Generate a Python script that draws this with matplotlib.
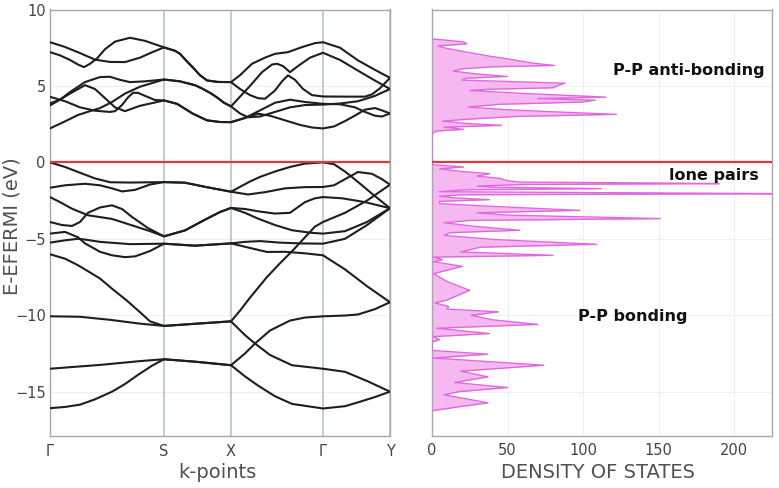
import numpy as np
import matplotlib as mpl
mpl.use('Agg')
import matplotlib.pyplot as plt

# high symmetry points along the path
kpt_pos = [0.0, 1.14, 1.81, 2.73, 3.40]
kpt_labels = ['Γ', 'S', 'X', 'Γ', 'Y']

# conduction bands (k, E)
cb1 = [(0, 7.86), (.15, 7.55), (.30, 7.15), (.45, 6.72), (.60, 6.57), (.75, 6.56), (.90, 6.85), (1.02, 7.2), (1.14, 7.52),
       (1.25, 7.3), (1.30, 7.1), (1.37, 6.6), (1.43, 6.2), (1.50, 5.7), (1.57, 5.36), (1.68, 5.26), (1.81, 5.25),
       (1.90, 5.7), (2.02, 6.45), (2.15, 6.85), (2.25, 7.1), (2.38, 7.21), (2.52, 7.54), (2.65, 7.8), (2.73, 7.86),
       (2.90, 7.5), (3.08, 6.67), (3.25, 6.05), (3.40, 5.53)]
cb2 = [(0, 7.21), (.10, 7.0), (.20, 6.7), (.28, 6.4), (.34, 6.23), (.40, 6.45), (.47, 6.8), (.55, 7.4), (.65, 7.9),
       (.80, 8.15), (.95, 7.95), (1.14, 7.52),
       (1.25, 7.3), (1.30, 7.1), (1.37, 6.6), (1.43, 6.2), (1.50, 5.7), (1.57, 5.36), (1.68, 5.26), (1.81, 5.25),
       (1.90, 4.8), (2.00, 4.4), (2.08, 4.2), (2.15, 4.16), (2.25, 4.7), (2.32, 5.3), (2.38, 5.69), (2.45, 5.4),
       (2.53, 4.8), (2.62, 4.4), (2.73, 4.31), (2.95, 4.3), (3.15, 4.3), (3.22, 4.45), (3.30, 4.85), (3.40, 5.53)]
cb3 = [(0, 3.73), (.10, 4.1), (.20, 4.6), (.35, 5.25), (.50, 5.58), (.60, 5.6), (.70, 5.4), (.80, 5.25), (.95, 5.3),
       (1.14, 5.42),
       (1.30, 5.3), (1.45, 5.05), (1.53, 4.8), (1.60, 4.55), (1.67, 4.25), (1.74, 3.9), (1.81, 3.66),
       (1.90, 4.3), (2.00, 5.0), (2.12, 5.9), (2.22, 6.4), (2.27, 6.45), (2.33, 6.3), (2.40, 5.9), (2.48, 6.3),
       (2.60, 6.85), (2.73, 7.17), (2.90, 6.7), (3.08, 6.0), (3.25, 5.35), (3.40, 4.8)]
cb4 = [(0, 2.22), (.14, 2.65), (.28, 3.1), (.40, 3.35), (.50, 3.55), (.62, 3.95), (.75, 4.5), (.90, 4.95), (1.14, 5.42),
       (1.30, 5.3), (1.45, 5.05), (1.53, 4.8), (1.60, 4.55), (1.67, 4.25), (1.74, 3.9), (1.81, 3.66),
       (1.90, 3.2), (1.98, 2.95), (2.10, 3.0), (2.25, 3.3), (2.40, 3.6), (2.55, 3.75), (2.73, 3.78),
       (2.90, 3.85), (3.08, 4.0), (3.25, 4.35), (3.40, 4.8)]
cb5 = [(0, 4.29), (.15, 4.0), (.30, 3.6), (.45, 3.38), (.60, 3.3), (.65, 3.35), (.72, 3.75), (.78, 4.25), (.83, 4.55),
       (.88, 4.55), (.95, 4.35), (1.05, 4.08), (1.14, 4.05),
       (1.27, 3.83), (1.43, 3.18), (1.57, 2.75), (1.70, 2.64), (1.81, 2.63),
       (1.92, 2.85), (2.08, 3.18), (2.20, 3.05), (2.35, 2.75), (2.50, 2.45), (2.62, 2.28), (2.73, 2.22),
       (2.84, 2.35), (2.95, 2.7), (3.06, 3.1), (3.15, 3.45), (3.25, 3.55), (3.32, 3.4), (3.40, 3.2)]
cb6 = [(0, 3.86), (.10, 4.1), (.20, 4.5), (.35, 5.05), (.45, 4.8), (.55, 4.2), (.65, 3.6), (.75, 3.35), (.90, 3.7),
       (1.14, 4.05),
       (1.27, 3.83), (1.43, 3.18), (1.57, 2.75), (1.70, 2.64), (1.81, 2.63),
       (1.95, 2.9), (2.10, 3.4), (2.25, 3.9), (2.40, 4.1), (2.55, 3.95), (2.73, 3.83),
       (2.90, 3.8), (3.05, 3.6), (3.15, 3.3), (3.25, 3.05), (3.32, 3.0), (3.40, 3.2)]

# valence bands
vb1 = [(0, 0.0), (.15, -0.3), (.30, -0.68), (.45, -1.05), (.60, -1.3), (.80, -1.32), (1.14, -1.29),
       (1.35, -1.33), (1.55, -1.6), (1.81, -1.92),
       (2.00, -1.25), (2.10, -0.95), (2.25, -0.6), (2.40, -0.3), (2.55, -0.08), (2.73, 0.0),
       (2.84, -0.12), (2.95, -0.6), (3.02, -0.96), (3.12, -1.5), (3.22, -2.05), (3.40, -3.0)]
vb2 = [(0, -1.66), (.15, -1.5), (.35, -1.4), (.50, -1.5), (.62, -1.7), (.72, -1.9), (.85, -1.8), (1.00, -1.45),
       (1.14, -1.29),
       (1.35, -1.33), (1.55, -1.6), (1.81, -1.92),
       (1.98, -2.1), (2.15, -1.95), (2.35, -1.7), (2.55, -1.62), (2.73, -1.61),
       (2.84, -1.5), (2.95, -1.1), (3.08, -0.63), (3.22, -0.75), (3.32, -1.1), (3.40, -1.46)]
vb3 = [(0, -2.27), (.10, -2.6), (.22, -3.03), (.38, -3.46), (.62, -3.7), (.82, -4.12), (1.00, -4.5), (1.14, -4.84),
       (1.35, -4.45), (1.55, -3.75), (1.70, -3.25), (1.81, -2.98),
       (1.95, -3.05), (2.08, -3.2), (2.25, -3.35), (2.40, -3.3), (2.55, -2.6), (2.65, -2.35), (2.73, -2.27),
       (2.92, -2.35), (3.15, -2.6), (3.40, -3.0)]
vb4 = [(0, -3.9), (.12, -4.1), (.22, -4.16), (.30, -3.9), (.38, -3.3), (.50, -2.95), (.62, -2.81), (.72, -3.05),
       (.82, -3.57), (.98, -4.3), (1.14, -4.84),
       (1.35, -4.45), (1.55, -3.75), (1.70, -3.25), (1.81, -2.98),
       (1.95, -3.3), (2.08, -3.68), (2.25, -4.1), (2.42, -4.44), (2.60, -4.6), (2.73, -4.66),
       (2.95, -4.5), (3.17, -3.9), (3.40, -3.0)]
vb5 = [(0, -4.66), (.15, -4.55), (.28, -4.9), (.35, -5.3), (.50, -5.85), (.62, -6.08), (.75, -6.2), (.85, -6.15),
       (1.00, -5.8), (1.14, -5.32),
       (1.45, -5.45), (1.81, -5.3),
       (1.95, -5.2), (2.10, -5.15), (2.30, -5.25), (2.50, -5.3), (2.73, -5.32),
       (2.95, -5.0), (3.17, -4.1), (3.40, -3.0)]
vb6 = [(0, -5.25), (.15, -5.1), (.28, -5.0), (.35, -5.05), (.50, -5.2), (.80, -5.35), (1.14, -5.32),
       (1.45, -5.45), (1.81, -5.3),
       (2.00, -5.6), (2.17, -5.86), (2.35, -5.85), (2.55, -5.95), (2.73, -6.08),
       (2.95, -7.0), (3.17, -8.1), (3.40, -9.15)]
vb7 = [(0, -6.01), (.15, -6.3), (.28, -6.73), (.40, -7.2), (.50, -7.6), (.62, -8.26), (.77, -9.05), (.90, -9.8),
       (1.00, -10.4), (1.14, -10.7),
       (1.47, -10.55), (1.81, -10.4),
       (1.90, -9.7), (2.00, -8.85), (2.17, -7.5), (2.30, -6.6), (2.43, -5.75), (2.55, -4.9), (2.65, -4.2),
       (2.73, -3.9), (2.95, -3.3), (3.17, -2.5), (3.40, -1.46)]
vb8 = [(0, -10.07), (.30, -10.1), (.60, -10.3), (.90, -10.55), (1.14, -10.7),
       (1.47, -10.55), (1.81, -10.4),
       (1.95, -11.3), (2.05, -11.85), (2.20, -12.6), (2.42, -13.27), (2.73, -13.5),
       (2.95, -13.7), (3.17, -14.3), (3.40, -15.0)]
vb9 = [(0, -13.5), (.50, -13.25), (.90, -13.0), (1.14, -12.88),
       (1.47, -13.05), (1.81, -13.27),
       (1.95, -12.5), (2.05, -11.85), (2.20, -11.0), (2.40, -10.35), (2.55, -10.15), (2.73, -10.07),
       (2.95, -10.02), (3.08, -9.95), (3.25, -9.6), (3.40, -9.15)]
vb10 = [(0, -16.08), (.15, -16.0), (.30, -15.85), (.45, -15.5), (.62, -15.0), (.75, -14.5), (.88, -13.9),
        (1.02, -13.3), (1.14, -12.88),
        (1.47, -13.05), (1.81, -13.27),
        (1.95, -14.0), (2.08, -14.6), (2.25, -15.3), (2.42, -15.8), (2.73, -16.1),
        (2.95, -15.95), (3.08, -15.7), (3.25, -15.35), (3.40, -15.0)]

# density of states
dos_energy = [8.08, 7.88, 7.75, 7.62, 7.45, 7.21, 6.95, 6.77, 6.5, 6.34, 6.25, 6.12, 5.97, 5.8, 5.62, 5.5, 5.38,
              5.18, 5.05, 4.88, 4.78, 4.7, 4.5, 4.27, 4.17, 4.07, 3.94, 3.8, 3.62, 3.45, 3.3, 3.14, 3.0, 2.85,
              2.7, 2.55, 2.42, 2.3, 2.16, 2.05, 1.9,
              -0.15, -0.3, -0.42, -0.6, -0.74, -0.9, -1.05, -1.2, -1.29, -1.35, -1.39, -1.45, -1.55, -1.62,
              -1.72, -1.8, -1.92, -2.0, -2.05, -2.12, -2.22, -2.32, -2.44, -2.55, -2.7, -2.88, -3.14, -3.3,
              -3.45, -3.68, -3.8, -3.95, -4.2, -4.44, -4.6, -4.78, -5.05, -5.36, -5.55, -5.86, -6.08, -6.2,
              -6.36, -6.5, -6.8, -7.28, -7.8, -8.37, -9.0, -9.2, -9.42, -9.6, -9.78, -10.0, -10.3, -10.6,
              -10.85, -11.2, -11.4, -11.6, -11.75, -12.3, -12.55, -12.8, -13.27, -13.66, -14.03, -14.4,
              -14.73, -15.0, -15.2, -15.73, -16.0, -16.25]
dos_value = [0, 21, 23, 4, 10, 23, 38, 50, 66, 81, 40, 20, 14, 28, 50, 22, 20,
             88, 84, 80, 38, 25, 62, 115, 70, 108, 99, 45, 24, 48, 82, 122, 55, 28,
             7, 22, 46, 8, 21, 3, 0,
             0, 21, 5, 20, 38, 30, 45, 50, 58, 150, 190, 60, 30, 40,
             112, 20, 5, 150, 240, 20, 5, 15, 38, 5, 5, 40, 98, 30,
             50, 151, 25, 8, 30, 58, 12, 8, 42, 109, 32, 19, 80, 1,
             7, 1, 20, 1, 10, 25, 10, 2, 11, 10, 44, 26, 40, 70,
             3, 38, 1, 5, 0, 0, 37, 1, 74, 19, 37, 15,
             50, 18, 8, 37, 17, 0]

bands = [cb1, cb2, cb3, cb4, cb5, cb6, vb1, vb2, vb3, vb4, vb5, vb6, vb7, vb8, vb9, vb10]


def styleAxis(ax):
    for s in ax.spines.values():
        s.set_color('#a8a8a8')
        s.set_linewidth(1.0)
    ax.tick_params(length=0, labelsize=10.5, labelcolor='#444444')


def generateFigure():
    W, H = 779, 488
    fig = plt.figure(figsize=(W/100., H/100.), dpi=100)
    ax1 = fig.add_axes([50./W, 1-436./H, 340./W, 426.5/H])
    ax2 = fig.add_axes([432./W, 1-436./H, 340./W, 426.5/H])

    ylim = (-17.9, 10)

    # band structure
    for kp in kpt_pos:
        ax1.axvline(kp, color='#b9c3c7', lw=1.2, zorder=1)
    for yv in (-15, -10, -5, 5):
        ax1.axhline(yv, color='#efefef', lw=0.8, zorder=0)
    for b in bands:
        k = [p[0] for p in b]
        e = [p[1] for p in b]
        ax1.plot(k, e, color='#1e1e1e', lw=1.5, zorder=3, solid_joinstyle='round')
    ax1.axhline(0, color='#e0363c', lw=1.6, zorder=4)
    ax1.set_xlim(kpt_pos[0], kpt_pos[-1])
    ax1.set_ylim(ylim)
    ax1.set_xticks(kpt_pos)
    ax1.set_xticklabels(kpt_labels)
    ax1.set_yticks([-15, -10, -5, 0, 5, 10])
    styleAxis(ax1)
    ax1.tick_params(axis='x', pad=6)
    ax1.tick_params(axis='y', pad=3)

    # density of states
    for xv in (50, 100, 150, 200):
        ax2.axvline(xv, color='#f0f0f0', lw=0.8, zorder=0)
    for yv in (-15, -10, -5, 5):
        ax2.axhline(yv, color='#f0f0f0', lw=0.8, zorder=0)
    ax2.fill_betweenx(dos_energy, 0, dos_value, color='#f6b8f1', lw=0, zorder=2)
    ax2.plot(dos_value, dos_energy, color='#e068de', lw=1.0, zorder=3)
    ax2.axhline(0, color='#e0363c', lw=1.6, zorder=4)
    ax2.set_xlim(0, 225)
    ax2.set_ylim(ylim)
    ax2.set_xticks([0, 50, 100, 150, 200])
    ax2.set_yticks([-15, -10, -5, 0, 5, 10])
    ax2.set_yticklabels([])
    styleAxis(ax2)
    ax2.tick_params(axis='x', pad=5)

    txt = dict(fontweight='bold', fontsize=11.5, color='#111111', zorder=5)
    ax2.text(220, 6.0, 'P-P anti-bonding', ha='right', va='center', **txt)
    ax2.text(216, -0.85, 'lone pairs', ha='right', va='center', **txt)
    ax2.text(133, -10.07, 'P-P bonding', ha='center', va='center', **txt)

    # axis titles
    lab = dict(fontsize=14, color='#505050', ha='center', va='center')
    fig.text(12./W, 1-226./H, 'E-EFERMI (eV)', rotation=90, **lab)
    fig.text(217./W, 1-472./H, 'k-points', **lab)
    fig.text(598./W, 1-472./H, 'DENSITY OF STATES', **lab)

    plt.savefig('out.png', dpi=100)


def main():
    generateFigure()


main()
